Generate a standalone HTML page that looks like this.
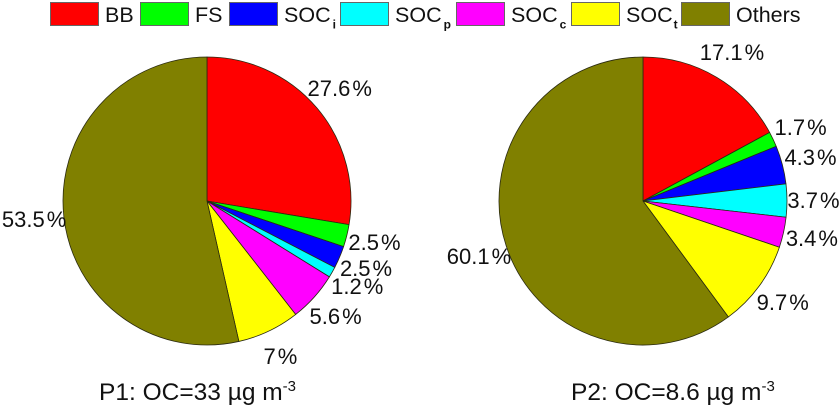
<!DOCTYPE html>
<html>
<head>
<meta charset="utf-8">
<style>
html,body{margin:0;padding:0;background:#fff;}
svg{display:block;}
text{font-family:"Liberation Sans",sans-serif;fill:#111;}
</style>
</head>
<body>
<svg id="chart" xmlns="http://www.w3.org/2000/svg" width="840" height="408" viewBox="0 0 840 408"></svg>
<script>
const categories = ["BB", "FS", "SOCi", "SOCp", "SOCc", "SOCt", "Others"];
const colors = ["#ff0000", "#00ff00", "#0000ff", "#00ffff", "#ff00ff", "#ffff00", "#808000"];
const p1Values = [27.6, 2.5, 2.5, 1.2, 5.6, 7, 53.5];
const p2Values = [17.1, 1.7, 4.3, 3.7, 3.4, 9.7, 60.1];
const legendSubs = ["", "", "i", "p", "c", "t", ""];
const legendBoxX = [50, 140, 229, 340, 456, 571, 681];
const legendSubGap = [0, 0, 2, 2, 2, 1, 0];
const p1Nudges = [[3, -3], [2.5, 0], [2.5, 0.5], [2.5, 1], [2, 1.5], [0.5, 1.5], [-4, -1]];
const p2Nudges = [[2, -3], [4, -1], [3, -1], [0.5, -0.5], [3, 0], [2.5, 0.5], [-2.5, 2]];

const svg = document.getElementById('chart');
const NS = 'http://www.w3.org/2000/svg';
function make(tag, attrs, text) {
  const el = document.createElementNS(NS, tag);
  for (const k in attrs) el.setAttribute(k, attrs[k]);
  if (text !== undefined) el.textContent = text;
  svg.appendChild(el);
  return el;
}
function point(cx, cy, r, angle) {
  return [cx + r * Math.sin(angle), cy - r * Math.cos(angle)];
}
function drawPie(prefix, values, cx, cy, r, nudges) {
  const total = values.reduce((a, b) => a + b, 0);
  let cum = 0;
  values.forEach((v, i) => {
    const a0 = cum / total * 2 * Math.PI;
    cum += v;
    const a1 = cum / total * 2 * Math.PI;
    const p0 = point(cx, cy, r, a0);
    const p1 = point(cx, cy, r, a1);
    const large = (a1 - a0) > Math.PI ? 1 : 0;
    const slice = make('path', {
      d: `M${cx} ${cy}L${p0[0]} ${p0[1]}A${r} ${r} 0 ${large} 1 ${p1[0]} ${p1[1]}Z`,
      fill: colors[i], stroke: '#2a2a10', 'stroke-width': 0.8, 'stroke-linejoin': 'round'
    });
    
    
  });
  cum = 0;
  values.forEach((v, i) => {
    const mid = (cum + v / 2) / total * 2 * Math.PI;
    cum += v;
    const p = point(cx, cy, r + 26, mid);
    const label = make('text', {
      x: p[0] + nudges[i][0], y: p[1] + nudges[i][1] + 8,
      'font-size': 22, 'text-anchor': 'middle'
    }, String(v));
    
    
    const pct = document.createElementNS(NS, 'tspan');
    pct.setAttribute('dx', '2');
    pct.textContent = '%';
    label.appendChild(pct);
  });
}
drawPie('p1', p1Values, 207, 201, 144, p1Nudges);
drawPie('p2', p2Values, 643, 201, 144, p2Nudges);

categories.forEach((c, i) => {
  const box = make('rect', {
    x: legendBoxX[i] + 0.5, y: 2.5, width: 48, height: 23,
    fill: colors[i], stroke: '#666', 'stroke-width': 1
  });
  
  
  const base = legendSubs[i] ? c.slice(0, 3) : c;
  const label = make('text', { x: legendBoxX[i] + 55, y: 22, 'font-size': 21.5 }, base);
  
  
  if (legendSubs[i]) {
    const sub = document.createElementNS(NS, 'tspan');
    sub.setAttribute('font-size', '12');
    sub.setAttribute('font-weight', 'bold');
    sub.setAttribute('dy', '6.5');
    sub.setAttribute('dx', String(legendSubGap[i]));
    sub.textContent = legendSubs[i];
    label.appendChild(sub);
  }
});

function drawTitle(name, x, main, unit) {
  const t = make('text', { x: x, y: 400, 'font-size': 24.5 }, main);
  
  
  const sup = document.createElementNS(NS, 'tspan');
  sup.setAttribute('font-size', '15');
  sup.setAttribute('dy', '-9');
  sup.textContent = unit;
  t.appendChild(sup);
}
drawTitle('p1-title', 99, 'P1: OC=33 \u00b5g m', '-3');
drawTitle('p2-title', 571, 'P2: OC=8.6 \u00b5g m', '-3');
</script>
</body>
</html>
